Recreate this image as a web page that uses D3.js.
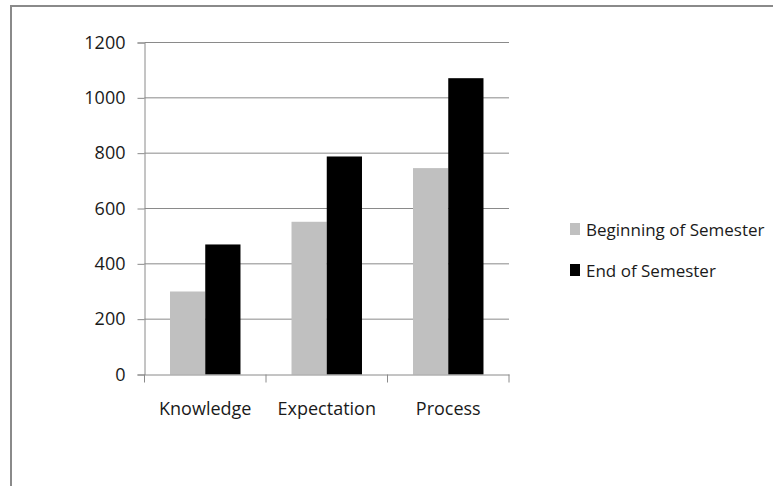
<!DOCTYPE html>
<html>
<head>
<meta charset="utf-8">
<script src="https://cdn.jsdelivr.net/npm/d3@7"></script>
<style>
  body { margin: 0; background: #fff; }
  text { font-family: "Open Sans", sans-serif; fill: #1a1a1a; }
</style>
</head>
<body>
<div id="vis"></div>
<script>
var categories = ["Knowledge", "Expectation", "Process"];
var seriesNames = ["Beginning of Semester", "End of Semester"];
var beginValues = [300, 552, 746];
var endValues = [470, 788, 1071];
var yTicks = [0, 200, 400, 600, 800, 1000, 1200];

var width = 773, height = 486;
var plot = {left: 144.5, right: 509, top: 42.5, bottom: 374.5};
var color = d3.scaleOrdinal().domain(seriesNames).range(["#c0c0c0", "#000000"]);

var svg = d3.select("#vis").append("svg")
  .attr("width", width)
  .attr("height", height);

// outer frame (only top and left edges visible)
svg.append("path")
  .attr("d", "M11,486 V6 H773")
  .attr("fill", "none")
  .attr("stroke", "#8a8a8a")
  .attr("stroke-width", 2);

var yScale = d3.scaleLinear()
  .domain([0, 1200])
  .range([plot.bottom, plot.top]);

var x0 = d3.scaleBand()
  .domain(categories)
  .range([plot.left, plot.right])
  .padding(0);

var gap = x0.bandwidth() * 0.21;
var x1 = d3.scaleBand()
  .domain(seriesNames)
  .range([gap, x0.bandwidth() - gap])
  .padding(0);

// gridlines + y axis
var yAxis = svg.append("g")
  .attr("transform", "translate(" + plot.left + ",0)")
  .call(d3.axisLeft(yScale)
    .tickValues(yTicks)
    .tickSize(7)
    .tickPadding(12)
    .tickFormat(d3.format("d")));
yAxis.select(".domain").attr("stroke", "#8a8a8a");
yAxis.selectAll(".tick line").attr("stroke", "#8a8a8a");
yAxis.selectAll(".tick text")
  .style("font-size", "18px")
  .style("font-family", "'Open Sans', sans-serif")
  .attr("fill", "#1a1a1a");

svg.append("g")
  .selectAll("line")
  .data(yTicks.filter(function(d) { return d > 0; }))
  .enter().append("line")
  .attr("x1", plot.left)
  .attr("x2", plot.right)
  .attr("y1", function(d) { return yScale(d); })
  .attr("y2", function(d) { return yScale(d); })
  .attr("stroke", "#8a8a8a")
  .attr("stroke-width", 1);

// bars
var rows = categories.map(function(c, i) {
  return {cat: c, values: [
    {key: seriesNames[0], value: beginValues[i]},
    {key: seriesNames[1], value: endValues[i]}
  ]};
});

svg.append("g")
  .selectAll("g")
  .data(rows)
  .enter().append("g")
  .attr("transform", function(d) { return "translate(" + x0(d.cat) + ",0)"; })
  .selectAll("rect")
  .data(function(d) { return d.values; })
  .enter().append("rect")
  .attr("x", function(d) { return x1(d.key); })
  .attr("width", x1.bandwidth())
  .attr("y", function(d) { return yScale(d.value); })
  .attr("height", function(d) { return plot.bottom - yScale(d.value); })
  .attr("fill", function(d) { return color(d.key); });

// x axis
var xAxis = svg.append("g")
  .attr("transform", "translate(0," + plot.bottom + ")")
  .call(d3.axisBottom(x0).tickSize(0).tickPadding(28));
xAxis.select(".domain").attr("stroke", "#8a8a8a");
xAxis.selectAll(".tick text")
  .style("font-size", "18px")
  .style("font-family", "'Open Sans', sans-serif")
  .attr("fill", "#1a1a1a");

// category separator ticks
var sepX = categories.map(function(c) { return x0(c); }).concat([plot.right]);
svg.append("g")
  .selectAll("line")
  .data(sepX)
  .enter().append("line")
  .attr("x1", function(d) { return d; })
  .attr("x2", function(d) { return d; })
  .attr("y1", plot.bottom)
  .attr("y2", plot.bottom + 8)
  .attr("stroke", "#8a8a8a");

// legend
var legend = svg.append("g")
  .selectAll("g")
  .data(seriesNames)
  .enter().append("g")
  .attr("transform", function(d, i) { return "translate(570," + (223 + i * 41) + ")"; });

legend.append("rect")
  .attr("width", 10)
  .attr("height", 12)
  .attr("fill", function(d) { return color(d); });

legend.append("text")
  .attr("x", 16)
  .attr("y", 13)
  .style("font-size", "17px")
  .text(function(d) { return d; });
</script>
</body>
</html>
